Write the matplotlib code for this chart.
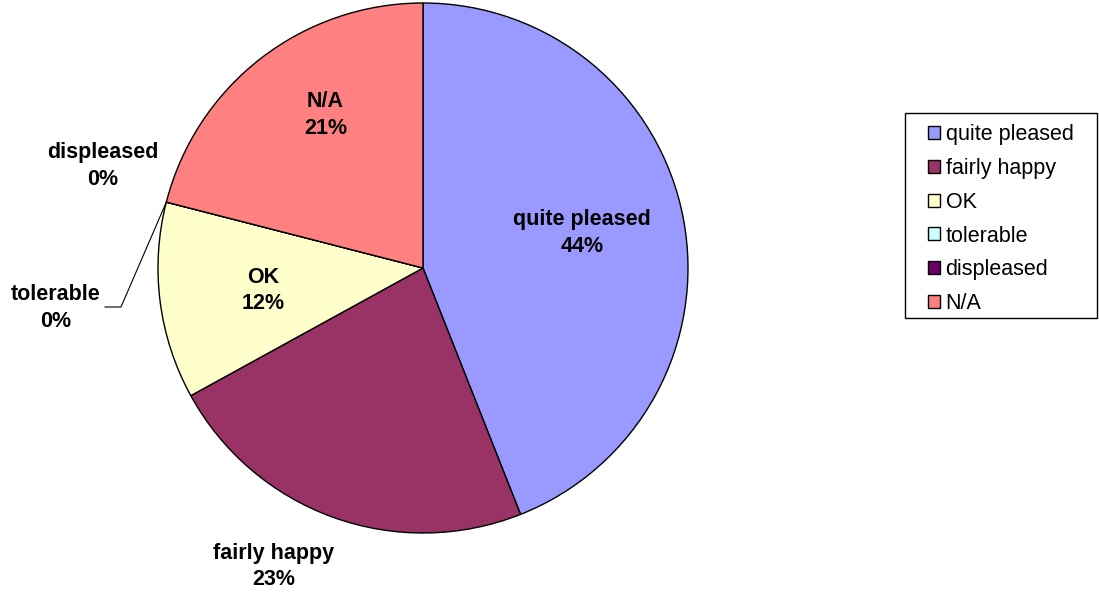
import matplotlib.pyplot as plt
import numpy as np

plt.rcParams['font.family'] = ['Liberation Sans', 'DejaVu Sans']

# answers and their share of responses
categories = ['quite pleased', 'fairly happy', 'OK', 'tolerable', 'displeased', 'N/A']
shares = [44, 23, 12, 0, 0, 21]
colors = ['#9999FF', '#993366', '#FFFFCC', '#CCFFFF', '#660066', '#FF8080']

# label placement (radius in pie radii, angle in degrees), picked by eye
label_pos = [(0.615, 12.4), (1.26, -116.6), (0.61, -172.0), (1.396, -173.8), (1.268, 162.3), (0.685, 122.5)]

W, H = 1099, 594
R = 265.0
cx, cy = 423, 268

fig = plt.figure(figsize=(W / 100, H / 100), dpi=100)
ax = fig.add_axes([0, 0, 1, 1])

wedges, _ = ax.pie(shares, colors=colors, startangle=90, counterclock=False,
                   radius=1.0, wedgeprops=dict(edgecolor='black', linewidth=1.0))

ax.set_aspect('auto')
ax.set_xlim(-cx / R, (W - cx) / R)
ax.set_ylim(-(H - cy) / R, cy / R)
ax.axis('off')

total = sum(shares)
for name, val, (r, ang) in zip(categories, shares, label_pos):
    a = np.deg2rad(ang)
    ax.text(r * np.cos(a), r * np.sin(a), f'{name}\n{round(100 * val / total)}%',
            ha='center', va='center', fontsize=15.5, fontweight='bold', linespacing=1.35)

# leader line for the zero slice "tolerable"
cum = np.cumsum(shares) / total
edge_ang = np.deg2rad(90 - 360 * cum[categories.index('tolerable')])
ex, ey = np.cos(edge_ang), np.sin(edge_ang)
ax.plot([ex, (121 - cx) / R, (105 - cx) / R], [ey, (cy - 307) / R, (cy - 307) / R],
        color='black', lw=0.8)

leg = fig.legend(wedges, categories, loc='center', bbox_to_anchor=(0.9107, 0.631),
                 fontsize=15.5, frameon=False,
                 handlelength=0.55, handleheight=0.55, handletextpad=0.25,
                 labelspacing=0.59, borderpad=0.45, borderaxespad=0)

# legend box drawn separately, it is wider than the entries need
box = plt.Rectangle((905 / W, 1 - 318 / H), 192 / W, 205 / H, transform=fig.transFigure,
                    fill=False, edgecolor='black', lw=1.0)
fig.add_artist(box)

fig.savefig('out.png', dpi=100)
